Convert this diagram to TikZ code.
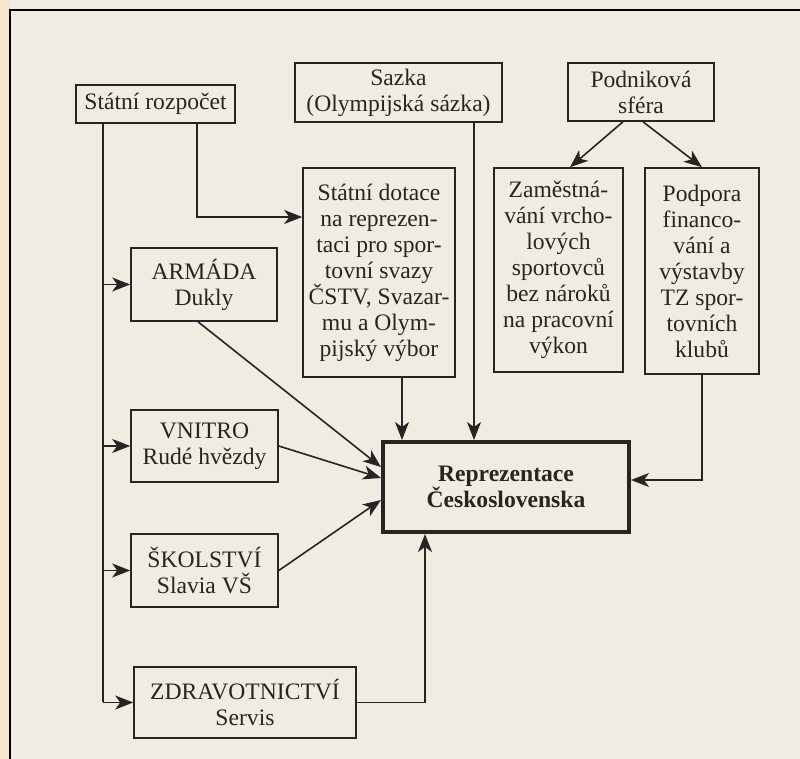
\documentclass[tikz,border=0pt]{standalone}
\usepackage{fontspec}
\setmainfont{Liberation Serif}
\usepackage{xcolor}
\usetikzlibrary{arrows.meta,calc}
\definecolor{paper}{RGB}{240,236,226}
\definecolor{paperedge}{RGB}{248,230,206}
\definecolor{ink}{RGB}{40,36,36}

\begin{document}
\begin{tikzpicture}[x=0.5pt,y=-0.5pt,
  box/.style={draw=ink,line width=0.8pt,align=center,inner sep=1pt,text=ink,font=\fontsize{11.8}{13}\selectfont},
  main/.style={box,line width=2pt,font=\fontsize{11.8}{13}\selectfont\bfseries},
  >={Stealth[length=9pt,width=7pt,inset=2.5pt]}]
 % paper and frame
 \fill[paper] (0,0) rectangle (800,759);
 \fill[paperedge] (0,0) rectangle (10,759);
 \useasboundingbox (0,0) rectangle (800,759);
 \draw[line width=1pt,black] (10,759) -- (10,10) -- (800,10);

 \node[box,minimum width=79.5pt,minimum height=19pt] (rozpocet) at (155.5,104) {Státní rozpočet};
 \node[box,minimum width=103.5pt,minimum height=29.5pt] (sazka) at (398.5,92.5) {Sazka\\(Olympijská sázka)};
 \node[box,minimum width=73pt,minimum height=29pt] (podnik) at (641,92) {Podniková\\sféra};
 \node[box,minimum width=76pt,minimum height=104.5pt] (dotace) at (379,272.5)
  {Státní dotace\\na reprezen-\\taci pro spor-\\tovní svazy\\ČSTV, Svazar-\\mu a Olym-\\pijský výbor};
 \node[box,minimum width=64.5pt,minimum height=102pt] (zamest) at (558.5,270)
  {Zaměstná-\\vání vrcho-\\lových\\sportovců\\bez nároků\\na pracovní\\výkon};
 \node[box,minimum width=57pt,minimum height=103pt] (podpora) at (702,271)
  {Podpora\\financo-\\vání a\\výstavby\\TZ spor-\\tovních\\klubů};
 \node[box,minimum width=73pt,minimum height=36.5pt] (armada) at (204,284.5) {ARMÁDA\\Dukly};
 \node[box,minimum width=73.5pt,minimum height=36pt] (vnitro) at (204.5,446) {VNITRO\\Rudé hvězdy};
 \node[box,minimum width=73.5pt,minimum height=36.5pt] (skolstvi) at (204.5,570.5) {ŠKOLSTVÍ\\Slavia VŠ};
 \node[box,minimum width=111pt,minimum height=35.5pt] (zdrav) at (245,702.5) {ZDRAVOTNICTVÍ\\Servis};
 \node[main,minimum width=123pt,minimum height=45pt] (rep) at (506,487) {Reprezentace\\Československa};

 % where the vertical lines run
 \coordinate (trunk) at (103,0);
 \coordinate (rz) at (197,217);
 \coordinate (sk) at (474,0);
 \coordinate (dt) at (402,0);
 \coordinate (zd) at (425,0);

 \draw[ink,line width=0.8pt] (rozpocet.south -| trunk) -- (zdrav.west -| trunk);
 \path[ink,line width=0.8pt,->]
  (armada.west -| trunk) edge (armada.west)
  (vnitro.west -| trunk) edge (vnitro.west)
  (skolstvi.west -| trunk) edge (skolstvi.west)
  (zdrav.west -| trunk) edge (zdrav.west)
  (sazka.south -| sk) edge (rep.north -| sk)
  (dotace.south -| dt) edge (rep.north -| dt)
  ($(podnik.south)+(-18,0)$) edge ($(zamest.north)+(11.5,0)$)
  ($(podnik.south)+(2,0)$) edge (podpora.north)
  ($(armada.south)+(-6,0)$) edge ($(rep.west)+(0,-20)$)
  (vnitro.east) edge ($(rep.west)+(0,-9)$)
  (skolstvi.east) edge ($(rep.west)+(0,13)$)
  ;
 \draw[ink,line width=0.8pt,->] (rozpocet.south -| rz) |- (dotace.west |- rz);
 \draw[ink,line width=0.8pt,->] (podpora.south) |- ($(rep.east)+(0,-7)$);
 \draw[ink,line width=0.8pt,->] (zdrav.east) -| (rep.south -| zd);
\end{tikzpicture}
\end{document}
